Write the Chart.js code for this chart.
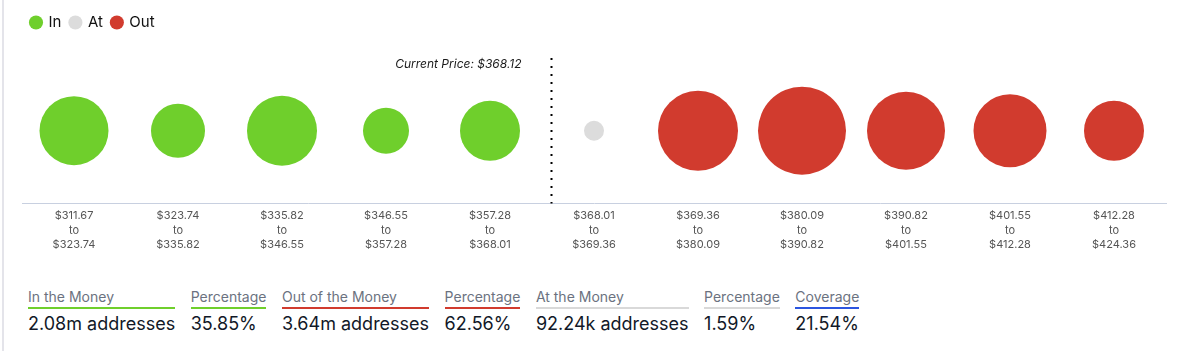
<!DOCTYPE html>
<html>
<head>
<meta charset="utf-8">
<script src="https://cdn.jsdelivr.net/npm/chart.js@4"></script>
<style>
  html, body { margin: 0; padding: 0; background: #fff; }
  body { width: 1181px; height: 351px; position: relative; overflow: hidden; font-family: Inter, "Noto Sans", sans-serif; }
  .edge { position: absolute; left: 2px; top: 0; bottom: 0; width: 2px; background: #e4e4ea; }
  #wrap { position: absolute; left: 0; top: 0; width: 1181px; height: 257px; }
  .stats { position: absolute; left: 28px; top: 288px; display: flex; gap: 15.5px; }
  .stat .label { font-size: 14px; color: #6b7280; padding-bottom: 2px; border-bottom: 2px solid #ccc; line-height: 17px; }
  .stat .value { font-size: 18px; color: #111827; margin-top: 4px; line-height: 22px; white-space: nowrap; }
</style>
</head>
<body>
<div class="edge"></div>
<div id="wrap"><canvas id="chart"></canvas></div>
<div class="stats" id="stats"></div>

<script>
// Price bins (from / to)
const binFrom = ["$311.67", "$323.74", "$335.82", "$346.55", "$357.28", "$368.01", "$369.36", "$380.09", "$390.82", "$401.55", "$412.28"];
const binTo   = ["$323.74", "$335.82", "$346.55", "$357.28", "$368.01", "$369.36", "$380.09", "$390.82", "$401.55", "$412.28", "$424.36"];

// bubble size for each bin
const bubbleSize = [34.5, 27, 35, 23, 30, 10, 40, 44, 39, 36.5, 30];
// 0 = in, 1 = at, 2 = out
const binStatus = [0, 0, 0, 0, 0, 1, 2, 2, 2, 2, 2];

const seriesNames = ["In", "At", "Out"];
const seriesColors = ["#6fcf2c", "#dcdcdc", "#d13b2e"];

const currentPrice = "$368.12";
const currentPricePos = 4.59; // between bins 4 and 5

const summary = [
  { label: "In the Money", value: "2.08m addresses", color: "#6fcf2c" },
  { label: "Percentage", value: "35.85%", color: "#6fcf2c" },
  { label: "Out of the Money", value: "3.64m addresses", color: "#d13b2e" },
  { label: "Percentage", value: "62.56%", color: "#d13b2e" },
  { label: "At the Money", value: "92.24k addresses", color: "#d9d9d9" },
  { label: "Percentage", value: "1.59%", color: "#d9d9d9" },
  { label: "Coverage", value: "21.54%", color: "#2b55e0" },
];

// Build datasets
const datasets = seriesNames.map((name, s) => ({
  label: name,
  data: binFrom
    .map((_, i) => ({ x: i, y: 0.5, r: bubbleSize[i], s: binStatus[i] }))
    .filter((p) => p.s === s),
  backgroundColor: seriesColors[s],
  borderColor: seriesColors[s],
  borderWidth: 0,
  hoverRadius: 0,
}));

// extra room under the legend
const legendSpace = {
  id: "legendSpace",
  beforeInit(chart) {
    const fit = chart.legend.fit;
    chart.legend.fit = function () {
      fit.call(this);
      this.height += 18;
    };
  },
};

// dotted line + current price label
const priceLine = {
  id: "priceLine",
  afterDatasetsDraw(chart) {
    const { ctx, chartArea, scales } = chart;
    const x = Math.round(scales.x.getPixelForValue(currentPricePos)) + 0.5;
    ctx.save();
    ctx.strokeStyle = "#000";
    ctx.lineWidth = 2;
    ctx.setLineDash([2, 6]);
    ctx.beginPath();
    ctx.moveTo(x, chartArea.top);
    ctx.lineTo(x, chartArea.bottom);
    ctx.stroke();
    ctx.setLineDash([]);
    ctx.font = "italic 12px Inter, sans-serif";
    ctx.fillStyle = "#1a1a1a";
    ctx.textAlign = "right";
    ctx.textBaseline = "middle";
    ctx.fillText("Current Price: " + currentPrice, x - 30, chartArea.top + 6);
    ctx.restore();
  },
};

Chart.defaults.font.family = "Inter, 'Noto Sans', sans-serif";

new Chart(document.getElementById("chart"), {
  type: "bubble",
  data: { datasets: datasets },
  options: {
    responsive: true,
    maintainAspectRatio: false,
    animation: false,
    layout: { autoPadding: false, padding: { left: 22, right: 15, top: 6, bottom: 0 } },
    plugins: {
      legend: {
        position: "top",
        align: "start",
        labels: {
          usePointStyle: true,
          pointStyle: "circle",
          boxWidth: 10,
          boxHeight: 10,
          padding: 9,
          color: "#111",
          font: { size: 15 },
        },
      },
      tooltip: { enabled: false },
    },
    scales: {
      x: {
        type: "linear",
        min: -0.5,
        max: 10.5,
        afterBuildTicks: (scale) => {
          scale.ticks = binFrom.map((_, i) => ({ value: i }));
        },
        grid: { display: false, drawTicks: false },
        border: { display: true, color: "#c8d0e0", width: 1 },
        ticks: {
          autoSkip: false,
          maxRotation: 0,
          padding: 5,
          color: "#555",
          font: { size: 11, lineHeight: 1.32 },
          callback: (v) => [binFrom[v], "to", binTo[v]],
        },
      },
      y: {
        display: false,
        min: 0,
        max: 1,
      },
    },
  },
  plugins: [legendSpace, priceLine],
});

// summary row
const stats = document.getElementById("stats");
summary.forEach((item) => {
  const col = document.createElement("div");
  col.className = "stat";
  col.innerHTML = '<div class="label" style="border-bottom-color:' + item.color + '">' + item.label +
    '</div><div class="value">' + item.value + "</div>";
  stats.appendChild(col);
});
</script>
</body>
</html>
